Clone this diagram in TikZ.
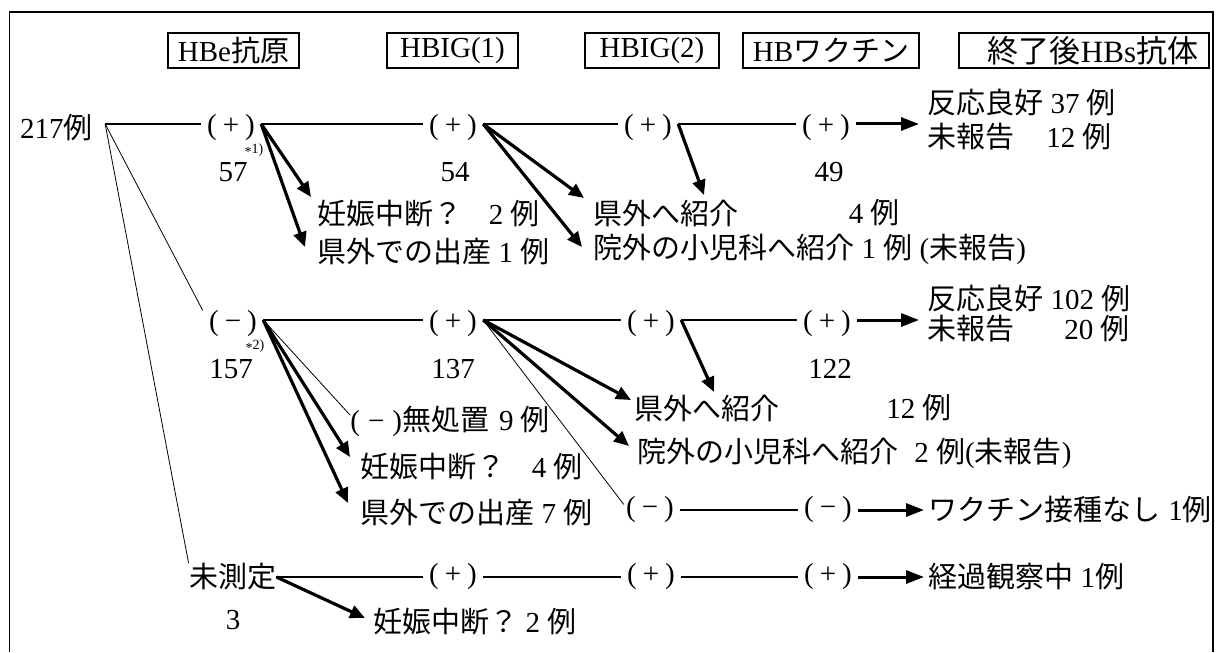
\documentclass[tikz,border=0pt]{standalone}
\usepackage{fontspec}
\setmainfont{Liberation Serif}
\newfontfamily\cjkfont{Noto Sans CJK JP}
\newcommand{\JP}[1]{{\cjkfont #1}}
\newcommand{\fsz}{\fontsize{14.5pt}{17pt}\selectfont}
\newcommand{\pls}{(\kern3pt+\kern3pt)}
\newcommand{\mns}{(\kern3pt−\kern3pt)}
\usetikzlibrary{arrows.meta}
\begin{document}
\begin{tikzpicture}[x=0.5pt,y=-0.5pt,
  lbl/.style={inner sep=0pt,font=\fsz},
  sgn/.style={inner ysep=0pt,inner xsep=3pt,font=\fsz},
  hdr/.style={draw,line width=0.6pt,inner sep=0pt,minimum height=17.5pt,font=\fsz},
  note/.style={inner sep=0pt,font=\fontsize{7pt}{7pt}\selectfont},
  rowline/.style={line width=0.6pt},
  hair/.style={line width=0.4pt},
  tarr/.style={line width=1.6pt,-{Triangle[length=7.5pt,width=6.5pt]}},
  harr/.style={line width=1.5pt,-{Triangle[length=9pt,width=6.5pt]}},
]
\useasboundingbox (0,0) rectangle (1218,652);
\draw[line width=0.6pt] (9.5,652) -- (9.5,12) -- (1213,12) -- (1213,652);

% headers
\node[hdr,minimum width=65.5pt] (hA) at (233.5,50.5) {HBe\JP{抗原}};
\node[hdr,minimum width=65.5pt] (hB) at (452.5,50.5) {HBIG(1)};
\node[hdr,minimum width=67pt] (hC) at (652,50.5) {HBIG(2)};
\node[hdr,minimum width=88pt] (hD) at (831,50.5) {HB\JP{ワクチン}};
\node[hdr,minimum width=125pt] (hE) at (1084,50.5) {\hspace*{9pt}{\fontsize{15.5pt}{17pt}\selectfont\JP{終了後}HBs\JP{抗体}}};

% row 1
\node[lbl] (n0) at (56.5,128) {217\JP{例}};
\node[sgn] (a1) at (231,128) {\pls};
\node[sgn] (a2) at (453,128) {\pls};
\node[sgn] (a3) at (648,128) {\pls};
\node[sgn] (a4) at (826,128) {\pls};
\node[note] (k1) at (254,150) {\raisebox{-1.5pt}{*}1)};
\node[lbl] (c57) at (233,172) {57};
\node[lbl] (c54) at (455,172) {54};
\node[lbl] (c49) at (829,172) {49};
\node[lbl,anchor=west] (r1a) at (927,102) {\JP{反応良好} 37 \JP{例}};
\node[lbl,anchor=west] (r1b) at (927,137) {\JP{未報告}};
\node[lbl,anchor=east] (r1c) at (1112,137) {12 \JP{例}};
\node[lbl,anchor=west] (t1) at (317,214) {\JP{妊娠中断？}};
\node[lbl,anchor=east] (t1n) at (540,214) {2 \JP{例}};
\node[lbl,anchor=west] (t2) at (317,251) {\JP{県外での出産} 1 \JP{例}};
\node[lbl,anchor=west] (t3) at (593,213) {\JP{県外へ紹介}};
\node[lbl,anchor=east] (t3n) at (900,213) {4 \JP{例}};
\node[lbl,anchor=west] (t4) at (593,249) {\JP{院外の小児科へ紹介} 1 \JP{例} (\JP{未報告})};

\coordinate (q1) at (311,197);
\coordinate (q2) at (305,247);
\coordinate (q3) at (584,198);
\coordinate (q4) at (582,247);
\coordinate (q5) at (704,195);
\coordinate (e1) at (919,124);

\draw[rowline] ([xshift=6pt,yshift=2pt]n0.east) -- ([yshift=2pt]a1.west);
\draw[rowline] ([yshift=2pt]a1.east) -- ([yshift=2pt]a2.west);
\draw[rowline] ([yshift=2pt]a2.east) -- ([yshift=2pt]a3.west);
\draw[rowline] ([yshift=2pt]a3.east) -- ([yshift=2pt]a4.west);
\draw[harr] ([yshift=2pt]a4.east) -- (e1);
\draw[tarr] ([yshift=2pt]a1.east) -- (q1);
\draw[tarr] ([yshift=2pt]a1.east) -- (q2);
\draw[tarr] ([yshift=2pt]a2.east) -- (q3);
\draw[tarr] ([yshift=2pt]a2.east) -- (q4);
\draw[tarr] ([yshift=2pt]a3.east) -- (q5);

% row 2
\node[sgn] (b1) at (233,324) {\mns};
\node[sgn] (b2) at (453,324) {\pls};
\node[sgn] (b3) at (651,324) {\pls};
\node[sgn] (b4) at (827,324) {\pls};
\node[note] (k2) at (255,346) {\raisebox{-1.5pt}{*}2)};
\node[lbl] (c157) at (231,369) {157};
\node[lbl] (c137) at (453,369) {137};
\node[lbl] (c122) at (830,369) {122};
\node[lbl,anchor=west] (r2a) at (927,298) {\JP{反応良好} 102 \JP{例}};
\node[lbl,anchor=west] (r2b) at (927,329) {\JP{未報告}};
\node[lbl,anchor=east] (r2c) at (1130,329) {20 \JP{例}};
\node[lbl,anchor=west] (s1) at (350,421) {(\kern4pt−\kern4pt)\JP{無処置}\hspace{5pt}9 \JP{例}};
\node[lbl,anchor=west] (s2) at (360,467) {\JP{妊娠中断？}};
\node[lbl,anchor=east] (s2n) at (583,467) {4 \JP{例}};
\node[lbl,anchor=west] (s3) at (360,512) {\JP{県外での出産} 7 \JP{例}};
\node[lbl,anchor=west] (u1) at (634,408) {\JP{県外へ紹介}};
\node[lbl,anchor=east] (u1n) at (952,408) {12 \JP{例}};
\node[lbl,anchor=west] (u2) at (637,453) {\JP{院外の小児科へ紹介}\hspace{8pt}2 \JP{例}(\JP{未報告})};

\coordinate (q6) at (350,457);
\coordinate (q7) at (348,503);
\coordinate (q8) at (631,400);
\coordinate (q9) at (629,446);
\coordinate (q10) at (714,392);
\coordinate (e2) at (919,320);

\draw[hair] ([xshift=6pt,yshift=2pt]n0.east) -- (b1.north west);
\draw[rowline] ([yshift=2pt]b1.east) -- ([yshift=2pt]b2.west);
\draw[rowline] ([yshift=2pt]b2.east) -- ([yshift=2pt]b3.west);
\draw[rowline] ([yshift=2pt]b3.east) -- ([yshift=2pt]b4.west);
\draw[harr] ([yshift=2pt]b4.east) -- (e2);
\draw[hair] ([yshift=2pt]b1.east) -- ([yshift=3pt]s1.west);
\draw[tarr] ([yshift=2pt]b1.east) -- (q6);
\draw[tarr] ([yshift=2pt]b1.east) -- (q7);
\draw[tarr] ([yshift=2pt]b2.east) -- (q8);
\draw[tarr] ([yshift=2pt]b2.east) -- (q9);
\draw[tarr] ([yshift=2pt]b3.east) -- (q10);

% row 3
\node[sgn] (c3m) at (650,510) {\mns};
\node[sgn] (c4m) at (828,510) {\mns};
\node[lbl,anchor=west] (w3) at (928,510) {\JP{ワクチン接種なし}\hspace{4pt}1\JP{例}};
\draw[hair] ([yshift=2pt]b2.east) -- ([xshift=2pt,yshift=-4pt]c3m.north west);
\draw[rowline] (c3m) -- (c4m);
\draw[harr] (c4m) -- ([xshift=-2pt]w3.west);

% row 4
\node[lbl] (m0) at (232.5,577) {\JP{未測定}};
\node[sgn] (m2) at (453,577) {\pls};
\node[sgn] (m3) at (651,577) {\pls};
\node[sgn] (m4) at (828,577) {\pls};
\node[lbl,anchor=west] (w4) at (928,577) {\JP{経過観察中} 1\JP{例}};
\node[lbl] (n3) at (233,620) {3};
\node[lbl,anchor=west] (x1) at (373,622) {\JP{妊娠中断？} 2 \JP{例}};
\coordinate (q11) at (365,618);
\draw[hair] ([xshift=6pt,yshift=2pt]n0.east) -- (m0.north west);
\draw[rowline] (m0) -- (m2);
\draw[rowline] (m2) -- (m3);
\draw[rowline] (m3) -- (m4);
\draw[harr] (m4) -- ([xshift=-2pt]w4.west);
\draw[tarr] (m0.east) -- (q11);
\end{tikzpicture}
\end{document}
